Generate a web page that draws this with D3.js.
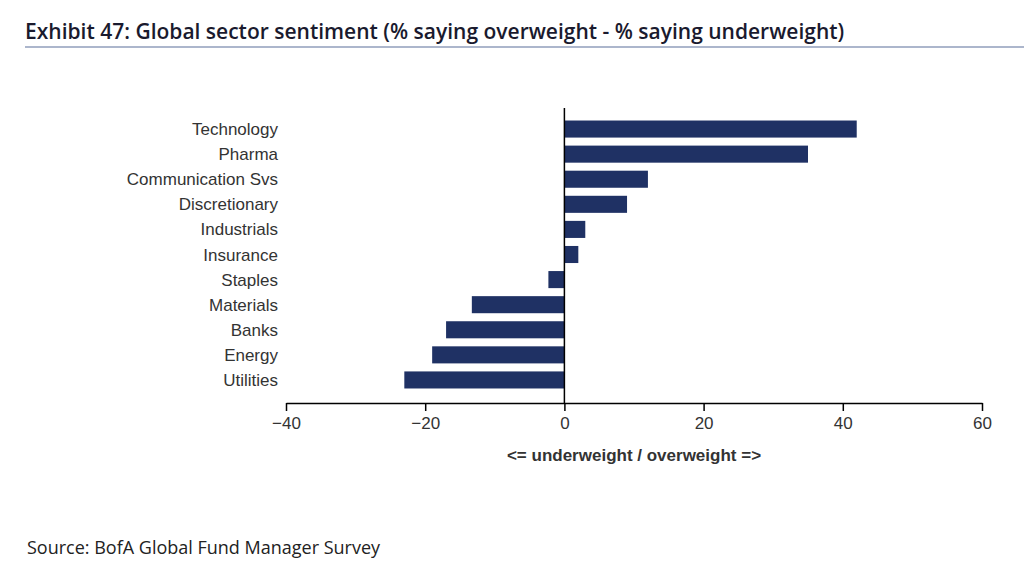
<!DOCTYPE html>
<html><head><meta charset="utf-8">
<script src="https://cdn.jsdelivr.net/npm/d3@7"></script>
<style>body{margin:0;background:#fff}</style>
</head><body>
<script>
// Sector sentiment values
const sectors = ["Technology","Pharma","Communication Svs","Discretionary","Industrials","Insurance","Staples","Materials","Banks","Energy","Utilities"];
const netWeight = [42, 35, 12, 9, 3, 2, -2.3, -13.3, -17, -19, -23];
const ticks = [-40, -20, 0, 20, 40, 60];

const width = 1024, height = 572;
const svg = d3.select("body").append("svg").attr("width", width).attr("height", height);

// title + rule
svg.append("text").attr("x", 25).attr("y", 39)
  .attr("font-family", "Open Sans, sans-serif").attr("font-size", 21).attr("font-weight", 600)
  .attr("fill", "#1a1a2e")
  .text("Exhibit 47: Global sector sentiment (% saying overweight - % saying underweight)");
svg.append("line").attr("x1", 25).attr("x2", 1024).attr("y1", 47).attr("y2", 47)
  .attr("stroke", "#5b6f99").attr("stroke-width", 1.2);

const x = d3.scaleLinear().domain([-40, 60]).range([286, 982]);
const y = d3.scaleBand().domain(sectors).range([116.5, 392.5]).paddingInner(0.32).paddingOuter(0.16);

svg.append("g").selectAll("rect").data(sectors).join("rect")
  .attr("x", (d, i) => x(Math.min(0, netWeight[i])))
  .attr("width", (d, i) => Math.abs(x(netWeight[i]) - x(0)))
  .attr("y", d => y(d)).attr("height", y.bandwidth())
  .attr("fill", "#1f3164");

// category labels
svg.append("g").selectAll("text").data(sectors).join("text")
  .attr("x", 278).attr("y", d => y(d) + y.bandwidth() / 2 + 6)
  .attr("text-anchor", "end").attr("font-family", "Liberation Sans, Arial, sans-serif")
  .attr("font-size", 17).attr("fill", "#333").text(d => d);

// zero line
svg.append("line").attr("x1", x(0)).attr("x2", x(0)).attr("y1", 108).attr("y2", 403)
  .attr("stroke", "#000").attr("stroke-width", 1.5);

// x axis
const ax = svg.append("g").attr("transform", "translate(0,403)")
  .call(d3.axisBottom(x).tickValues(ticks).tickSize(8).tickPadding(6).tickSizeOuter(0));
ax.select(".domain").attr("stroke-width", 1.5);
ax.selectAll(".tick line").attr("stroke-width", 1.5);
ax.selectAll("text").attr("font-family", "Liberation Sans, Arial, sans-serif")
  .attr("font-size", 17).attr("fill", "#333");

svg.append("text").attr("x", x(10)).attr("y", 461).attr("text-anchor", "middle")
  .attr("font-family", "Liberation Sans, Arial, sans-serif").attr("font-size", 17)
  .attr("font-weight", "bold").attr("fill", "#333").text("<= underweight / overweight =>");

svg.append("text").attr("x", 27).attr("y", 554)
  .attr("font-family", "Open Sans, sans-serif").attr("font-size", 18).attr("fill", "#222")
  .text("Source: BofA Global Fund Manager Survey");
</script>
</body></html>
